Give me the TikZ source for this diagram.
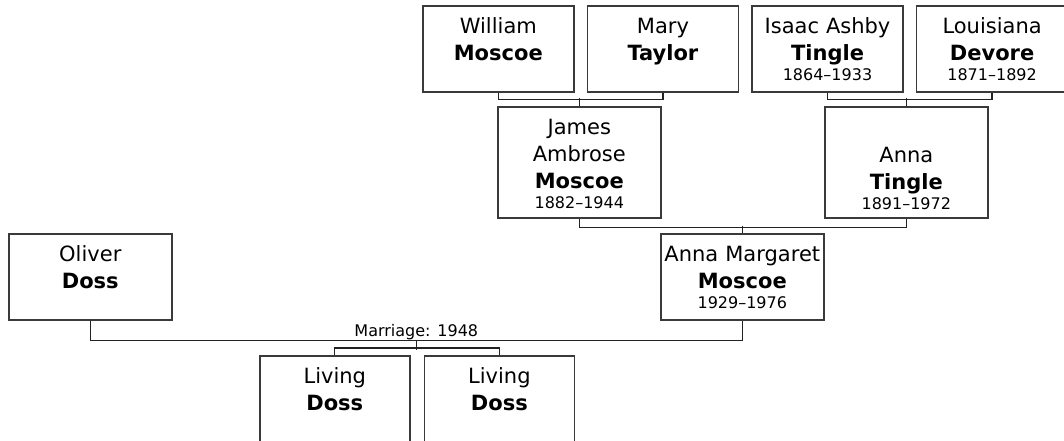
\documentclass[tikz,border=0pt]{standalone}
\usepackage{fontspec}
\setmainfont{DejaVu Sans}
\usepackage{tikz}
\usetikzlibrary{positioning}
\definecolor{boxline}{HTML}{3A3A3A}
\definecolor{linkline}{HTML}{222222}
\newcommand{\namesize}{\fontsize{21}{27}\selectfont}
\newcommand{\yearsize}{\fontsize{16}{20}\selectfont}
\newcommand{\lifespan}[1]{\\[-7pt]{\yearsize #1}}
\tikzset{
  % person box, text hangs from the top edge
  person/.style   = {rectangle, draw=boxline, line width=1.6pt, inner sep=0pt,
                     text width=#1, align=center, font=\namesize,
                     text height=28pt, text depth=58pt, anchor=north west},
  person/.default = 151pt,
  tall/.style     = {text depth=83pt},
  link/.style     = {draw=linkline, line width=1.3pt},
  note/.style     = {font=\yearsize, anchor=base},
}

\begin{document}
\begin{tikzpicture}[x=1pt,y=-1pt]
\useasboundingbox (0,0) rectangle (1064,440);
% grandparents
\node[person] (william) at (422,5) {William\\\textbf{Moscoe}};
\node[person, right=12pt of william] (mary) {Mary\\\textbf{Taylor}};
\node[person, right=12pt of mary] (isaac) {Isaac Ashby\\\textbf{Tingle}\lifespan{1864--1933}};
\node[person, right=12pt of isaac] (louisiana) {Louisiana\\\textbf{Devore}\lifespan{1871--1892}};
% parents
\node[person=163pt, tall] (james) at (497,106) {James\\Ambrose\\\textbf{Moscoe}\lifespan{1882--1944}};
\node[person=163pt, text height=56pt, text depth=55pt] (annat) at (824,106) {Anna\\\textbf{Tingle}\lifespan{1891--1972}};
% couple
\node[person=163pt] (oliver) at (8,233) {Oliver\\\textbf{Doss}};
\node[person=163pt] (annam) at (660,233) {Anna Margaret\\\textbf{Moscoe}\lifespan{1929--1976}};
% children
\node[person=150pt] (living1) at (259,355) {Living\\\textbf{Doss}};
\node[person=150pt, right=13pt of living1] (living2) {Living\\\textbf{Doss}};

\draw[link] (william.south) -- ++(0,7) -| (mary.south);
\draw[link] (james.north) -- ++(0,-8);
\draw[link] (isaac.south) -- ++(0,7) -| (louisiana.south);
\draw[link] (annat.north) -- ++(0,-8);
\draw[link] (james.south) -- ++(0,9) -| (annat.south);
\draw[link] (annam.north) -- ++(0,-7);
\draw[link] (oliver.south) -- ++(0,20)
  -| coordinate[pos=0.25] (wed) node[note, pos=0.25, yshift=4pt] (wedding) {Marriage: 1948} (annam.south);
\draw[link] (wed) -- ++(0,9);
\draw[link] (living1.north) -- ++(0,-7) -| (living2.north);
\end{tikzpicture}
\end{document}
